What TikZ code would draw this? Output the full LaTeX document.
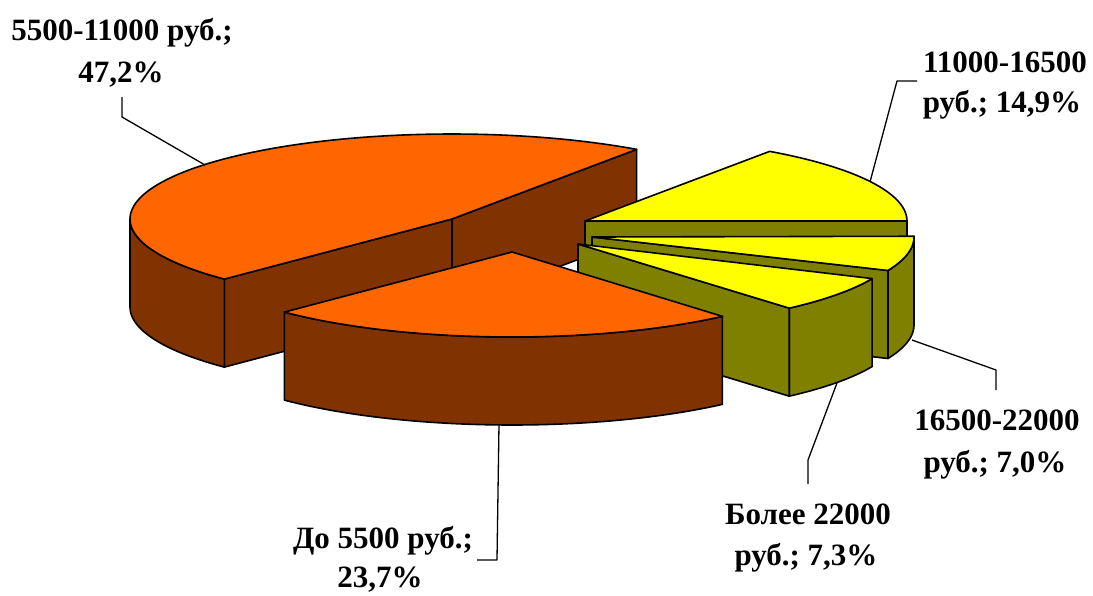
\documentclass[tikz,border=0pt]{standalone}
\usepackage{fontspec}
\setmainfont{Liberation Serif}
\definecolor{otop}{RGB}{255,102,0}
\definecolor{oside}{RGB}{128,51,0}
\definecolor{ytop}{RGB}{255,255,0}
\definecolor{yside}{RGB}{128,128,0}
\begin{document}
\begin{tikzpicture}[x=1pt,y=-1pt,line join=round,
  face/.style={draw=black,line width=1.6pt},
  lead/.style={draw=black,line width=1.3pt},
  lbl/.style={font=\fontsize{31}{41}\selectfont\bfseries,anchor=base,inner sep=0pt}]
\useasboundingbox (0,0) rectangle (1093,595);

% ---------- big slice 5500-11000 (centre 452,219) ----------
\filldraw[face,fill=oside] (452,219) -- ({452+322*cos(305)},{219+85*sin(305)}) -- ++(0,88) -- (452,307) -- cycle;
\filldraw[face,fill=oside] (452,219) -- ({452+322*cos(135)},{219+85*sin(135)}) -- ++(0,88) -- (452,307) -- cycle;
\filldraw[face,fill=oside] plot[domain=135:180,samples=30,variable=\t] ({452+322*cos(\t)},{219+85*sin(\t)})
   -- plot[domain=180:135,samples=30,variable=\t] ({452+322*cos(\t)},{307+85*sin(\t)}) -- cycle;
\filldraw[face,fill=otop] (452,219) -- plot[domain=135:305,samples=90,variable=\t] ({452+322*cos(\t)},{219+85*sin(\t)}) -- cycle;

% ---------- yellow 11000-16500 (centre 585,221) ----------
\filldraw[face,fill=yside] (585,221) -- (907,221) -- (907,309) -- (585,309) -- cycle;
\filldraw[face,fill=ytop] (585,221) -- plot[domain=-55:0,samples=40,variable=\t] ({585+322*cos(\t)},{221+85*sin(\t)}) -- cycle;

% ---------- yellow 16500-22000 (centre 592,237) ----------
\filldraw[face,fill=yside] plot[domain=-0.5:23.2,samples=20,variable=\t] ({592+322*cos(\t)},{237+85*sin(\t)})
   -- plot[domain=23.2:-0.5,samples=20,variable=\t] ({592+322*cos(\t)},{325+85*sin(\t)}) -- cycle;
\filldraw[face,fill=yside] (592,237) -- ({592+322*cos(23.2)},{237+85*sin(23.2)}) -- ++(0,88) -- (592,325) -- cycle;
\filldraw[face,fill=ytop] (592,237) -- plot[domain=-0.5:23.2,samples=20,variable=\t] ({592+322*cos(\t)},{237+85*sin(\t)}) -- cycle;

% ---------- yellow Более 22000 (centre 578,244) ----------
\filldraw[face,fill=yside] plot[domain=24:49,samples=20,variable=\t] ({578+322*cos(\t)},{244+85*sin(\t)})
   -- plot[domain=49:24,samples=20,variable=\t] ({578+322*cos(\t)},{332+85*sin(\t)}) -- cycle;
\filldraw[face,fill=yside] (578,244) -- ({578+322*cos(49)},{244+85*sin(49)}) -- ++(0,88) -- (578,332) -- cycle;
\filldraw[face,fill=ytop] (578,244) -- plot[domain=24:49,samples=20,variable=\t] ({578+322*cos(\t)},{244+85*sin(\t)}) -- cycle;

% ---------- orange До 5500 (centre 512,252) ----------
\filldraw[face,fill=oside] plot[domain=49.2:135,samples=50,variable=\t] ({512+322*cos(\t)},{252+85*sin(\t)})
   -- plot[domain=135:49.2,samples=50,variable=\t] ({512+322*cos(\t)},{340+85*sin(\t)}) -- cycle;
\filldraw[face,fill=otop] (512,252) -- plot[domain=49.2:135,samples=50,variable=\t] ({512+322*cos(\t)},{252+85*sin(\t)}) -- cycle;

% ---------- labels ----------
\node[lbl] (t1a) at (122,40) {5500-11000 руб.;};
\node[lbl] (t1b) at (121,82) {47,2\%};
\node[lbl] (t2a) at (1005,72) {11000-16500};
\node[lbl] (t2b) at (1002,112) {руб.; 14,9\%};
\node[lbl] (t3a) at (997,430) {16500-22000};
\node[lbl] (t3b) at (995,472) {руб.; 7,0\%};
\node[lbl] (t4a) at (808,524) {Более 22000};
\node[lbl] (t4b) at (806,565) {руб.; 7,3\%};
\node[lbl] (t5a) at (383,548) {До 5500 руб.;};
\node[lbl] (t5b) at (380,587) {23,7\%};

% ---------- leader lines ----------
\coordinate (l1a) at (122,97);  \coordinate (l1b) at (122,117); \coordinate (l1c) at (205,165);
\coordinate (l2a) at (917,81);  \coordinate (l2b) at (897,81);  \coordinate (l2c) at (870,182);
\coordinate (l3a) at (912,340); \coordinate (l3b) at (996,370); \coordinate (l3c) at (996,390);
\coordinate (l4a) at (837,383); \coordinate (l4b) at (808,460); \coordinate (l4c) at (808,484);
\coordinate (l5a) at (499,424); \coordinate (l5b) at (497,560); \coordinate (l5c) at (477,560);
\draw[lead] (l1a) -- (l1b) -- (l1c);
\draw[lead] (l2a) -- (l2b) -- (l2c);
\draw[lead] (l3a) -- (l3b) -- (l3c);
\draw[lead] (l4a) -- (l4b) -- (l4c);
\draw[lead] (l5a) -- (l5b) -- (l5c);
\end{tikzpicture}
\end{document}
